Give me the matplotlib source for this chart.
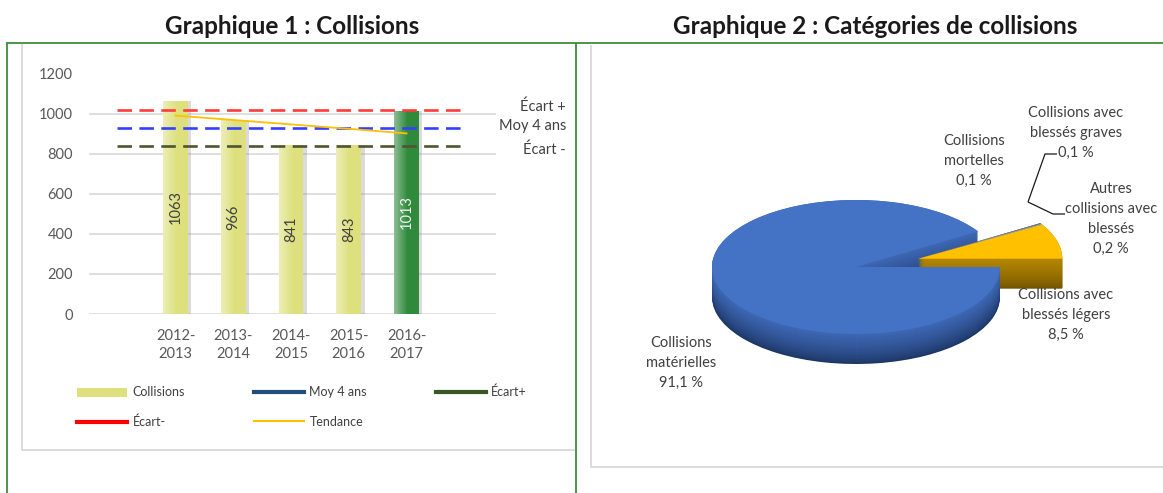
import numpy as np
import matplotlib
matplotlib.use("Agg")
import matplotlib.pyplot as plt
from matplotlib.lines import Line2D
from matplotlib.patches import Patch
from matplotlib.colors import to_rgb
import matplotlib.transforms as mtransforms

plt.rcParams['font.family'] = ['Lato', 'DejaVu Sans']

# ---------------- data ----------------
seasons = ["2012-\n2013", "2013-\n2014", "2014-\n2015", "2015-\n2016", "2016-\n2017"]
collisions = [1063, 966, 841, 843, 1013]
ecart_plus = 1020
moy_4_ans = 928
ecart_moins = 840
tendance = [990, 968, 946, 924, 901]

pie_labels = ["Collisions avec\nblessés légers\n8,5 %",
              "Autres\ncollisions avec\nblessés\n0,2 %",
              "Collisions avec\nblessés graves\n0,1 %",
              "Collisions\nmortelles\n0,1 %",
              "Collisions\nmatérielles\n91,1 %"]
pie_values = [8.5, 0.2, 0.1, 0.1, 91.1]

# ---------------- figure ----------------
W, H = 1163, 493
fig = plt.figure(figsize=(W / 100, H / 100), dpi=100)
fig.patch.set_facecolor("white")


def fx(x):
    return x / W


def fy(y):
    return 1 - y / H


def fline(xs, ys, color, lw):
    fig.add_artist(Line2D([fx(x) for x in xs], [fy(y) for y in ys],
                          color=color, lw=lw, transform=fig.transFigure,
                          solid_capstyle='butt'))


# frames
green = "#3C8F3C"
grey_box = "#D9D9D9"
fline([22, 22, 575], [44, 450, 450], grey_box, 1.3)
fline([591, 591, 1163], [45, 467, 467], grey_box, 1.3)
fline([6, 1163], [43, 43], green, 1.3)
fline([7, 7], [43, 493], green, 1.3)
fline([576, 576], [43, 493], green, 1.3)

# titles
fig.text(fx(292), fy(27), "Graphique 1 : Collisions", ha="center", va="center",
         fontsize=17.5, fontweight="bold", color="#1a1a1a")
fig.text(fx(875), fy(27), "Graphique 2 : Catégories de collisions", ha="center",
         va="center", fontsize=17.5, fontweight="bold", color="#1a1a1a")

# ---------------- bar chart ----------------
ax = fig.add_axes([fx(89), fy(314), (496 - 89) / W, (314 - 73.5) / H])
x = np.arange(len(collisions))
bar_colors = ["#DDE07D"] * 4 + ["#2F8A3C"]
bw = 0.43
ax.bar(x + 0.06, collisions, width=bw, color="#8a8a8a", alpha=0.3, zorder=2,
       linewidth=0)
bars = ax.bar(x, collisions, width=bw, color=bar_colors, zorder=3, linewidth=0)
for b in bars:
    g = np.zeros((2, 64, 4))
    g[..., :3] = 1.0
    ramp = np.clip(1 - np.linspace(0, 1, 64) / 0.55, 0, 1) * 0.45
    g[..., 3] = ramp
    ax.imshow(g, extent=(b.get_x(), b.get_x() + b.get_width(), 0, b.get_height()),
              aspect="auto", zorder=3.5, interpolation="bilinear")

for i, v in enumerate(collisions):
    ax.text(i, v / 2, str(v), rotation=90, ha="center", va="center",
            fontsize=10.5, color="#F2F2F2" if i == 4 else "#404040", zorder=6)

ax.hlines(ecart_plus, -1.02, 5.02, colors="#FF3B3B", lw=1.9,
          linestyles=(0, (5.5, 2.8)), zorder=5)
ax.hlines(moy_4_ans, -1.02, 5.02, colors="#3340FF", lw=1.9,
          linestyles=(0, (5.5, 2.8)), zorder=5)
ax.hlines(ecart_moins, -1.02, 5.02, colors="#4F5530", lw=1.9,
          linestyles=(0, (5.5, 2.8)), zorder=5)
ax.plot(x, tendance, color="#FFC000", lw=1.3, zorder=5.5)

trans = mtransforms.blended_transform_factory(ax.transAxes, ax.transData)
for val, txt, dy in [(ecart_plus, "Écart +", 2), (moy_4_ans, "Moy 4 ans", 1.5),
                     (ecart_moins, "Écart -", -3)]:
    ax.annotate(txt, xy=(1.172, val), xycoords=trans, xytext=(0, dy),
                textcoords="offset points", ha="right", va="center",
                fontsize=10.5, color="#404040", annotation_clip=False)

ax.set_xlim(-1.5, 5.55)
ax.set_ylim(0, 1200)
ax.set_yticks(range(0, 1201, 200))
ax.set_xticks(x)
ax.set_xticklabels(seasons, linespacing=1.3)
ax.grid(axis="y", color="#D9D9D9", lw=1.2, zorder=0)
ax.set_axisbelow(True)
for s in ax.spines.values():
    s.set_visible(False)
ax.tick_params(axis="both", length=0, labelsize=10.5, labelcolor="#595959")
ax.tick_params(axis="y", pad=11.5)
ax.tick_params(axis="x", pad=11)

handles = [Patch(facecolor="#DDE07D", edgecolor="none"),
           Line2D([], [], color="#FF0000", lw=3),
           Line2D([], [], color="#1F4E79", lw=3),
           Line2D([], [], color="#FFC000", lw=1.5),
           Line2D([], [], color="#375623", lw=3)]
labels = ["Collisions", "Écart-", "Moy 4 ans", "Tendance", "Écart+"]
fig.legend(handles, labels, ncol=3, loc="upper left",
           bbox_to_anchor=(fx(77), fy(386)), frameon=False, fontsize=9,
           handlelength=4.0, handletextpad=0.45, columnspacing=5.5,
           labelspacing=1.37, borderpad=0, borderaxespad=0, labelcolor="#404040")

# ---------------- 3D pie ----------------
axp = fig.add_axes([fx(592), fy(466), (1162 - 592) / W, (466 - 46) / H])
axp.axis("off")
a_px, b_px = 144.0, 67.0
cx_px, cy_px = 856.0, 267.0
depth = 30.0 / b_px
n_layers = 31

# explode the small group along its bisector
small_frac = sum(pie_values[:4]) / sum(pie_values)
theta = np.deg2rad(small_frac * 360 / 2)
ex = 0.45
off = (ex * np.cos(theta), ex * np.sin(theta))

top_cols = ["#FFC000", "#A5A5A5", "#7F7F7F", "#595959", "#4472C4"]
side_top = ["#B58800", "#808080", "#666666", "#4d4d4d", "#3E68B5"]
side_bot = ["#6E5200", "#4a4a4a", "#3d3d3d", "#333333", "#1C3563"]
none = (0, 0, 0, 0)


def mix(c1, c2, t):
    a, b = np.array(to_rgb(c1)), np.array(to_rgb(c2))
    return tuple(a * (1 - t) + b * t)


for k in range(n_layers):
    t = k / (n_layers - 1)
    dz = -depth * (1 - t)
    cols = [mix(side_bot[i], side_top[i], t ** 0.7) for i in range(5)]
    axp.pie(pie_values, colors=[none] * 4 + [cols[4]], startangle=0,
            counterclock=True, center=(0, dz), radius=1,
            wedgeprops=dict(linewidth=0))
    axp.pie(pie_values, colors=cols[:4] + [none], startangle=0,
            counterclock=True, center=(off[0], off[1] + dz), radius=1,
            wedgeprops=dict(linewidth=0))

axp.pie(pie_values, colors=top_cols[:4] + [none], startangle=0, counterclock=True,
        center=off, radius=1, wedgeprops=dict(linewidth=0))
axp.pie(pie_values, colors=[none] * 4 + [top_cols[4]], startangle=0,
        counterclock=True, center=(0, 0), radius=1, wedgeprops=dict(linewidth=0))

axp.set_aspect("auto")
axp.set_xlim(-(cx_px - 592) / a_px, (1162 - cx_px) / a_px)
axp.set_ylim(-(466 - cy_px) / b_px, (cy_px - 46) / b_px)

# pie labels
lab_pos = [(1066, 315), (1111, 219), (1076, 133), (974, 161), (681, 363)]
for (px, py), txt in zip(lab_pos, pie_labels):
    fig.text(fx(px), fy(py), txt, ha="center", va="center", fontsize=10.5,
             color="#404040", linespacing=1.55)

fline([1057, 1045, 1028], [154, 154, 202], "#1a1a1a", 0.9)
fline([1028, 1053, 1065], [202, 214, 214], "#1a1a1a", 0.9)

fig.savefig("out.png", dpi=100, facecolor="white")
